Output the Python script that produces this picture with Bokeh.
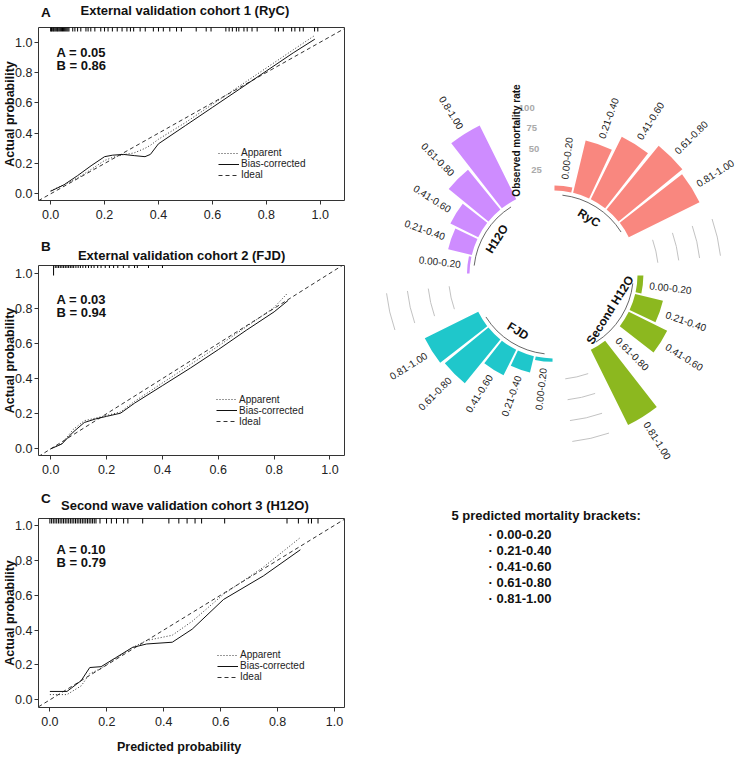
import math
from bokeh.plotting import figure
from bokeh.models import Range1d, FixedTicker, PrintfTickFormatter, Legend, LegendItem, Label
from bokeh.layouts import row, column
from bokeh.embed import file_html
from bokeh.resources import INLINE
from bokeh.core.properties import value

FONT = "Liberation Sans"

# ---------------- data: calibration panels ----------------
tick_values = [0.0, 0.2, 0.4, 0.6, 0.8, 1.0]
legend_labels = ["Apparent", "Bias-corrected", "Ideal"]

a_letter = "A"
a_title = "External validation cohort 1 (RyC)"
a_stats = ["A = 0.05", "B = 0.86"]
a_pred = [0.0, 0.05, 0.10, 0.15, 0.20, 0.23, 0.27, 0.31, 0.35, 0.37, 0.40, 0.50, 0.60, 0.70, 0.80, 0.90, 0.98]
a_app = [0.02, 0.06, 0.105, 0.16, 0.22, 0.24, 0.258, 0.27, 0.30, 0.32, 0.36, 0.47, 0.59, 0.71, 0.83, 0.95, 1.045]
a_bias = [0.017, 0.06, 0.12, 0.185, 0.245, 0.255, 0.26, 0.252, 0.245, 0.26, 0.33, 0.45, 0.57, 0.69, 0.81, 0.93, 1.02]
a_rug = [0.0, 0.003, 0.006, 0.01, 0.013, 0.017, 0.021, 0.025, 0.028, 0.032, 0.036, 0.04, 0.044, 0.048,
         0.052, 0.056, 0.06, 0.064, 0.068, 0.082, 0.09, 0.10, 0.112, 0.131, 0.139, 0.149, 0.164, 0.186,
         0.20, 0.213, 0.229, 0.247, 0.265, 0.283, 0.296, 0.308, 0.332, 0.351, 0.381, 0.40, 0.418, 0.442,
         0.467, 0.485, 0.54, 0.577, 0.595, 0.65, 0.662, 0.674, 0.689, 0.698, 0.717, 0.729, 0.747, 0.766,
         0.833, 0.845, 0.863, 0.894, 0.906, 0.924, 0.937, 0.979, 0.991]
a_rug_tall = []

b_letter = "B"
b_title = "External validation cohort 2 (FJD)"
b_stats = ["A = 0.03", "B = 0.94"]
b_pred = [0.0, 0.04, 0.08, 0.12, 0.16, 0.20, 0.25, 0.30, 0.40, 0.50, 0.60, 0.70, 0.80, 0.85]
b_app = [0.0, 0.03, 0.11, 0.16, 0.175, 0.19, 0.21, 0.27, 0.375, 0.48, 0.585, 0.695, 0.805, 0.89]
b_bias = [0.0, 0.028, 0.095, 0.15, 0.17, 0.185, 0.203, 0.26, 0.36, 0.46, 0.565, 0.675, 0.78, 0.845]
b_rug = [0.016, 0.022, 0.028, 0.034, 0.04, 0.046, 0.052, 0.058, 0.064, 0.07, 0.076, 0.082, 0.09, 0.098,
         0.106, 0.115, 0.125, 0.135, 0.145, 0.155, 0.168, 0.18, 0.195, 0.21, 0.225, 0.24, 0.26, 0.28,
         0.30, 0.31, 0.35, 0.40]
b_rug_tall = [0.01]

c_letter = "C"
c_title = "Second wave validation cohort 3 (H12O)"
c_stats = ["A = 0.10", "B = 0.79"]
c_pred = [0.0, 0.06, 0.11, 0.14, 0.18, 0.23, 0.29, 0.34, 0.43, 0.50, 0.61, 0.75, 0.88]
c_app = [0.03, 0.03, 0.08, 0.15, 0.18, 0.235, 0.30, 0.34, 0.37, 0.45, 0.605, 0.76, 0.93]
c_bias = [0.048, 0.048, 0.11, 0.185, 0.19, 0.24, 0.30, 0.32, 0.33, 0.405, 0.575, 0.71, 0.86]
c_rug = [0.0, 0.006, 0.012, 0.018, 0.024, 0.03, 0.036, 0.042, 0.048, 0.054, 0.06, 0.066, 0.072, 0.078,
         0.084, 0.09, 0.096, 0.102, 0.108, 0.114, 0.12, 0.126, 0.132, 0.138, 0.144, 0.15, 0.156, 0.162,
         0.176, 0.199, 0.216, 0.234, 0.259, 0.274, 0.326, 0.418, 0.453, 0.482, 0.51, 0.533, 0.614,
         0.833, 0.873, 0.908, 0.919, 0.942]
c_rug_tall = []

x_label = "Predicted probability"
y_label = "Actual probability"

# ---------------- data: circular bar chart ----------------
groups = ["RyC", "Second H12O", "FJD", "H12O"]
group_colors = ["#F8766D", "#7CAE00", "#00BFC4", "#C77CFF"]
brackets = ["0.00-0.20", "0.21-0.40", "0.41-0.60", "0.61-0.80", "0.81-1.00"]
h12o_brackets = ["0.00-0.20", "0.21-0.40", "0.41-0.60", "0.61-0.80", "0.8-1.00"]
ryc_rate = [6, 64, 83, 98, 94]
second_rate = [7, 34, 51, 0, 100]
fjd_rate = [4, 20, 34, 67, 71]
h12o_rate = [3, 29, 37, 61, 98]
scale_ticks = [25, 50, 75, 100]
scale_title = "Observed mortality rate"
box_title = "5 predicted mortality brackets:"

LEFT_W = 370


# ---------------- text strips (panel letters, titles, x label) ----------------
def strip(h, items):
    s = figure(width=LEFT_W, height=h, x_range=Range1d(0, LEFT_W), y_range=Range1d(0, h),
               min_border=0, toolbar_location=None, output_backend="svg")
    s.title.visible = False
    s.axis.visible = False
    s.grid.visible = False
    s.outline_line_color = None
    for text, x, y_from_top, size, align in items:
        s.text(x=[x], y=[h - y_from_top], text=[text], text_align=align, text_baseline="middle",
               text_font=value(FONT), text_font_size=size, text_font_style="bold",
               text_color="#111111")
    return s


# ---------------- calibration panels ----------------
def make_panel(stats, pred, app, bias, rug, rug_tall, cfg):
    xr, yr = cfg["xr"], cfg["yr"]
    p = figure(width=LEFT_W, height=cfg["h"], x_range=Range1d(*xr), y_range=Range1d(*yr),
               min_border_left=37, min_border_right=cfg["mr"], min_border_top=cfg["mt"],
               min_border_bottom=cfg["mb"], toolbar_location=None, output_backend="svg")
    p.title.visible = False
    p.grid.visible = False
    p.outline_line_color = "#333333"
    p.outline_line_width = 1
    for ax in (p.xaxis[0], p.yaxis[0]):
        ax.ticker = FixedTicker(ticks=tick_values)
        ax.formatter = PrintfTickFormatter(format="%.1f")
        ax.minor_tick_line_color = None
        ax.axis_line_color = None
        ax.major_tick_in = 0
        ax.major_tick_out = 4
        ax.major_tick_line_color = "#333333"
        ax.major_label_text_font = FONT
        ax.major_label_text_font_size = "12.5px"
        ax.major_label_text_color = "#222222"
    p.xaxis.major_label_standoff = 5
    p.yaxis.major_label_standoff = 2
    p.yaxis.axis_label = y_label
    p.yaxis.axis_label_text_font = FONT
    p.yaxis.axis_label_text_font_size = "12.5px"
    p.yaxis.axis_label_text_font_style = "bold"
    p.yaxis.axis_label_text_color = "#111111"
    p.yaxis.axis_label_standoff = -5

    r_ideal = p.line(x=[xr[0], xr[1]], y=[xr[0], xr[1]], line_color="#333333", line_width=1,
                     line_dash="4 3")
    r_app = p.line(x=pred, y=app, line_color="#333333", line_width=1, line_dash="1 2")
    r_bias = p.line(x=pred, y=bias, line_color="#111111", line_width=1)
    p.scatter(x=rug, y=yr[1], marker="dash", angle=math.pi / 2, size=cfg["rug"],
              line_color="black", line_width=1)
    if rug_tall:
        p.scatter(x=rug_tall, y=yr[1], marker="dash", angle=math.pi / 2, size=20,
                  line_color="black", line_width=1)

    leg = Legend(items=[LegendItem(label=legend_labels[0], renderers=[r_app]),
                        LegendItem(label=legend_labels[1], renderers=[r_bias]),
                        LegendItem(label=legend_labels[2], renderers=[r_ideal])],
                 location=cfg["leg"], glyph_width=21, glyph_height=10, label_height=10,
                 spacing=0, padding=0, margin=0, label_standoff=2,
                 label_text_font=FONT, label_text_font_size="10px", label_text_color="#222222",
                 border_line_color=None, background_fill_alpha=0)
    p.add_layout(leg)

    for k, txt in enumerate(stats):
        p.add_layout(Label(x=18, y=cfg["stats"][k], x_units="screen", y_units="screen", text=txt,
                           text_font=FONT, text_font_size="13px", text_font_style="bold",
                           text_baseline="middle", text_color="#111111"))
    return p


hA = strip(24, [(a_letter, 3, 12, "13.5px", "left"), (a_title, 177, 10, "13px", "center")])
pa = make_panel(a_stats, a_pred, a_app, a_bias, a_rug, a_rug_tall,
                dict(h=212, mt=3, mb=36, mr=23, xr=(-0.045, 1.09), yr=(-0.044, 1.097), rug=8,
                     leg=(180, 20), stats=(148, 135)))
hB = strip(27, [(b_letter, 3, 10, "13.5px", "left"), (b_title, 173, 19, "13px", "center")])
pb = make_panel(b_stats, b_pred, b_app, b_bias, b_rug, b_rug_tall,
                dict(h=227, mt=2, mb=35, mr=26, xr=(-0.044, 1.052), yr=(-0.038, 1.044), rug=5,
                     leg=(178, 28.5), stats=(156.5, 143.5)))
hC = strip(26, [(c_letter, 3, 7.5, "13.5px", "left"), (c_title, 177, 15, "13px", "center")])
pc = make_panel(c_stats, c_pred, c_app, c_bias, c_rug, c_rug_tall,
                dict(h=219, mt=2, mb=28, mr=22, xr=(-0.040, 1.035), yr=(-0.044, 1.039), rug=10,
                     leg=(179, 25), stats=(158, 145)))
hX = strip(31, [(x_label, 170, 11.7, "12.5px", "center")])

# ---------------- circular bar chart ----------------
HOLE = 100.0          # empty inner radius (in value units)
PX = 0.84             # pixels per value unit
EMPTY = 2             # empty slots between groups
D_W, D_H = 366, 766
CX, CY = 183, 274     # centre position inside the figure (px from left / top)
n_bars = len(brackets)
n_pos = len(groups) * (n_bars + EMPTY)
step = 360.0 / n_pos

pd_ = figure(width=D_W, height=D_H,
             x_range=Range1d(-CX / PX, (D_W - CX) / PX),
             y_range=Range1d(-(D_H - CY) / PX, CY / PX),
             min_border=0, toolbar_location=None, output_backend="svg")
pd_.title.visible = False
pd_.axis.visible = False
pd_.grid.visible = False
pd_.outline_line_color = None


def theta(idx):
    return (idx - 0.5) * step


def phi(th):
    return math.radians(90.0 - th)


rates = [ryc_rate, second_rate, fjd_rate, h12o_rate]
bar_labels = [brackets, brackets, brackets, h12o_brackets]
half_w = math.radians(0.9 * step) / 2

inner, outer, starts, ends, colors = [], [], [], [], []
lr = dict(x=[], y=[], text=[], angle=[])
ll = dict(x=[], y=[], text=[], angle=[])
group_ranges = []
for g, grp in enumerate(groups):
    first = g * (n_bars + EMPTY) + 1
    group_ranges.append((first, first + n_bars - 1))
    for i in range(n_bars):
        idx = first + i
        th = theta(idx)
        ph = phi(th)
        v = rates[g][i]
        inner.append(HOLE)
        outer.append(HOLE + v)
        starts.append(ph - half_w)
        ends.append(ph + half_w)
        colors.append(group_colors[g])
        r = HOLE + v + 8
        tgt = lr if th < 180 else ll
        tgt["x"].append(r * math.cos(ph))
        tgt["y"].append(r * math.sin(ph))
        tgt["text"].append(bar_labels[g][i])
        tgt["angle"].append(math.radians(90 - th) if th < 180 else math.radians(270 - th))

pd_.annular_wedge(x=0, y=0, inner_radius=inner, outer_radius=outer, start_angle=starts,
                  end_angle=ends, fill_color=colors, fill_alpha=0.88, line_color=None)

common = dict(text_font=value(FONT), text_font_size="10px", text_color="#222222",
              text_baseline="middle")
pd_.text(x=lr["x"], y=lr["y"], text=lr["text"], angle=lr["angle"], text_align="left", **common)
pd_.text(x=ll["x"], y=ll["y"], text=ll["text"], angle=ll["angle"], text_align="right", **common)

# base arcs + group titles
arc_r, arc_s, arc_e = [], [], []
gx, gy, gt, ga = [], [], [], []
for g, (a, b) in enumerate(group_ranges):
    arc_r.append(HOLE - 5)
    arc_s.append(phi(theta(b)))
    arc_e.append(phi(theta(a)))
    thm = (theta(a) + theta(b)) / 2
    rr = HOLE - 20.5
    gx.append(rr * math.cos(phi(thm)))
    gy.append(rr * math.sin(phi(thm)))
    gt.append(groups[g])
    ga.append(math.radians(-thm) if (thm < 90 or thm > 270) else math.radians(180 - thm))
pd_.arc(x=0, y=0, radius=arc_r, start_angle=arc_s, end_angle=arc_e, line_color="#555555",
        line_width=0.9)
pd_.text(x=gx, y=gy, text=gt, angle=ga, text_align="center", text_baseline="middle",
         text_font=value(FONT), text_font_size="12px", text_font_style="bold", text_color="#111111")

# grid arcs in the gaps between groups
grid_r, grid_s, grid_e = [], [], []
for g in range(1, len(groups)):
    prev_end = group_ranges[g - 1][1]
    start = group_ranges[g][0]
    for t in scale_ticks:
        grid_r.append(HOLE + t)
        grid_s.append(phi(theta(start - 1)))
        grid_e.append(phi(theta(prev_end + 1)))
pd_.arc(x=0, y=0, radius=grid_r, start_angle=grid_s, end_angle=grid_e, line_color="#BBBBBB",
        line_width=0.9)

# scale labels
sth = theta(n_pos)
pd_.text(x=[(HOLE + t) * math.cos(phi(sth)) for t in scale_ticks],
         y=[(HOLE + t) * math.sin(phi(sth)) for t in scale_ticks],
         text=[str(t) for t in scale_ticks], text_align="right", text_baseline="middle",
         text_font=value(FONT), text_font_size="9.5px", text_font_style="bold",
         text_color="#AAAAAA")
pd_.add_layout(Label(x=(516 - 553) / PX, y=(274 - 140) / PX, text=scale_title, angle=math.pi / 2,
                     text_align="center", text_baseline="middle", text_font=FONT,
                     text_font_size="10px", text_font_style="bold", text_color="#111111"))

# bracket list
pd_.add_layout(Label(x=(451 - 553) / PX, y=(274 - 515) / PX, text=box_title, text_align="left",
                     text_baseline="middle", text_font=FONT, text_font_size="13px",
                     text_font_style="bold", text_color="#111111"))
item_y0 = (274 - 533.7) / PX
item_dy = 16 / PX
pd_.text(x=(488 - 553) / PX, y=[item_y0 - i * item_dy for i in range(len(brackets))],
         text=["\u00b7 " + b for b in brackets], text_align="left", text_baseline="middle",
         text_font=value(FONT), text_font_size="13px", text_font_style="bold",
         text_color="#111111")

left = column(hA, pa, hB, pb, hC, pc, hX, spacing=0)
layout = row(left, pd_, spacing=0)
open("out.html", "w").write(file_html(layout, INLINE))
